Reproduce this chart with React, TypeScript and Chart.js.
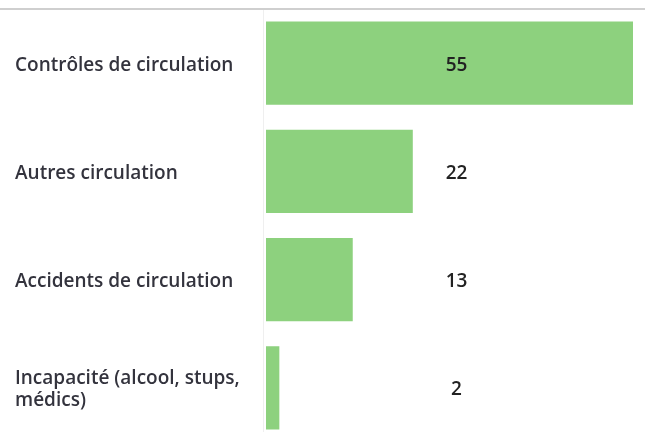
import React, { useEffect, useRef } from "react";
import { Chart, registerables } from "chart.js";

Chart.register(...registerables);

const categories: (string | string[])[] = [
  "Contrôles de circulation",
  "Autres circulation",
  "Accidents de circulation",
  ["Incapacité (alcool, stups,", "médics)"],
];
const values: number[] = [55, 22, 13, 2];
const barColor = "#8dd17e";

const decorPlugin = {
  id: "decor",
  beforeDatasetsDraw(chart: any) {
    const { ctx, chartArea } = chart;
    ctx.save();
    ctx.strokeStyle = "#cfcfcf";
    ctx.lineWidth = 2;
    ctx.beginPath();
    ctx.moveTo(0, chartArea.top);
    ctx.lineTo(chart.width, chartArea.top);
    ctx.stroke();
    ctx.strokeStyle = "#efefef";
    ctx.lineWidth = 1;
    ctx.beginPath();
    ctx.moveTo(chartArea.left - 2.5, chartArea.top + 1);
    ctx.lineTo(chartArea.left - 2.5, chart.height);
    ctx.stroke();
    ctx.restore();
  },
  afterDatasetsDraw(chart: any) {
    const { ctx, chartArea } = chart;
    const meta = chart.getDatasetMeta(0);
    const x = (chartArea.left + chartArea.right) / 2 + 7;
    ctx.save();
    ctx.fillStyle = "#222";
    ctx.font = "600 19px 'Open Sans'";
    ctx.textAlign = "center";
    ctx.textBaseline = "middle";
    meta.data.forEach((bar: any, i: number) => {
      ctx.fillText(String(chart.data.datasets[0].data[i]), x, bar.y + 2);
    });
    ctx.restore();
  },
};

export default function App() {
  const ref = useRef<HTMLCanvasElement>(null);
  useEffect(() => {
    document.body.style.margin = "0";
    const chart = new Chart(ref.current!, {
      type: "bar",
      data: {
        labels: categories,
        datasets: [
          {
            data: values,
            backgroundColor: barColor,
            barPercentage: 0.77,
            categoryPercentage: 1,
          },
        ],
      },
      options: {
        indexAxis: "y",
        animation: false,
        responsive: false,
        layout: { padding: { left: 15, right: 12, top: 9, bottom: 3 } },
        plugins: { legend: { display: false }, tooltip: { enabled: false } },
        scales: {
          x: { display: false, min: 0, max: 55 },
          y: {
            grid: { display: false },
            border: { display: false },
            afterFit(scale: any) {
              scale.width = 251;
              scale.paddingTop = 0;
              scale.paddingBottom = 0;
            },
            afterUpdate(scale: any) {
              if (scale._wrapped) return;
              scale._wrapped = true;
              const orig = scale.drawLabels.bind(scale);
              scale.drawLabels = (area: any) => {
                const c = scale.ctx;
                c.save();
                c.translate(0, 2);
                orig(area);
                c.restore();
              };
            },
            ticks: {
              crossAlign: "far",
              color: "#33333d",
              font: { family: "'Open Sans'", size: 19, weight: "600", lineHeight: 1.15 },
            },
          },
        },
      },
      plugins: [decorPlugin],
    });
    return () => chart.destroy();
  }, []);
  return (
    <div style={{ width: 645, height: 432, overflow: "hidden", position: "relative" }}>
      <canvas ref={ref} width={645} height={445} style={{ display: "block" }} />
    </div>
  );
}
